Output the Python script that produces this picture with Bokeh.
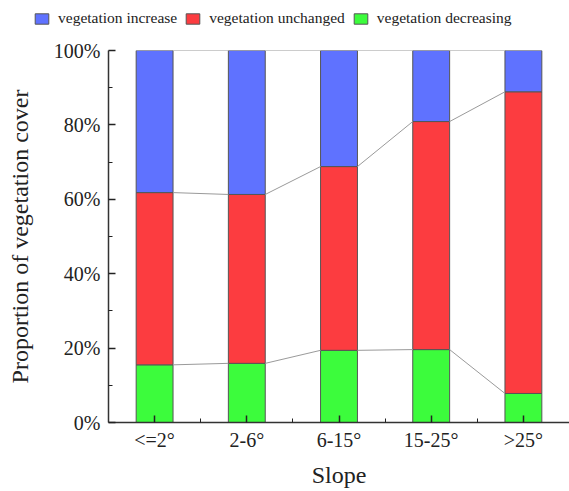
from bokeh.plotting import figure
from bokeh.layouts import column
from bokeh.models import (ColumnDataSource, Legend, LegendItem, FixedTicker,
                          PrintfTickFormatter, Range1d)
from bokeh.embed import file_html
from bokeh.resources import INLINE
import numpy as np

categories = ["<=2°", "2-6°", "6-15°", "15-25°", ">25°"]
decreasing = [15.5, 15.9, 19.4, 19.6, 7.8]
unchanged = [46.3, 45.4, 49.4, 61.3, 81.1]
increase = [38.2, 38.7, 31.2, 19.1, 11.1]

series_names = ["vegetation increase", "vegetation unchanged", "vegetation decreasing"]
colors = {"increase": "#5F72FF", "unchanged": "#FC3C40", "decreasing": "#3CFC3C"}

FONT = "Liberation Serif"
BAR_W = 0.4
W = 569

xs = list(range(len(categories)))
src = ColumnDataSource(dict(x=xs, decreasing=decreasing, unchanged=unchanged, increase=increase))

# ---- main chart ----
p = figure(width=W, height=461, output_backend="svg", toolbar_location=None,
           x_range=Range1d(-0.5, 4.5), y_range=Range1d(0, 100),
           min_border_left=108, min_border_right=0, min_border_top=20, min_border_bottom=69)
p.outline_line_color = None
p.xgrid.visible = False
p.ygrid.visible = False

rs = p.vbar_stack(["decreasing", "unchanged", "increase"], x="x", width=BAR_W, source=src,
                  color=[colors["decreasing"], colors["unchanged"], colors["increase"]],
                  line_color="#555555", line_width=1)

levels = [np.array(decreasing),
          np.array(decreasing) + np.array(unchanged),
          np.array(decreasing) + np.array(unchanged) + np.array(increase)]
x0, x1, y0, y1 = [], [], [], []
for lv in levels:
    for i in range(len(xs) - 1):
        x0.append(xs[i] + BAR_W / 2)
        x1.append(xs[i + 1] - BAR_W / 2)
        y0.append(float(lv[i]))
        y1.append(float(lv[i + 1]))
p.segment(x0=x0, y0=y0, x1=x1, y1=y1, line_color="#9a9a9a", line_width=1)

p.xaxis.ticker = FixedTicker(ticks=xs, minor_ticks=[i + 0.5 for i in xs[:-1]])
p.xaxis.major_label_overrides = {i: c for i, c in zip(xs, categories)}
p.yaxis.ticker = FixedTicker(ticks=[0, 20, 40, 60, 80, 100], minor_ticks=[10, 30, 50, 70, 90])
p.yaxis.formatter = PrintfTickFormatter(format="%d%%")

for ax in (p.xaxis, p.yaxis):
    ax.axis_line_color = "#333333"
    ax.axis_line_width = 1.5
    ax.major_tick_line_color = "#222222"
    ax.minor_tick_line_color = "#222222"
    ax.major_tick_line_width = 1.5
    ax.minor_tick_line_width = 1
    ax.major_tick_in = 7
    ax.major_tick_out = 0
    ax.minor_tick_in = 4
    ax.minor_tick_out = 0
    ax.major_label_text_font = FONT
    ax.major_label_text_font_size = "20px"
    ax.major_label_text_color = "#222222"
    ax.axis_label_text_font = FONT
    ax.axis_label_text_font_size = "24px"
    ax.axis_label_text_font_style = "normal"
    ax.axis_label_text_color = "#222222"

p.xaxis.axis_label = "Slope"
p.yaxis.axis_label = "Proportion of vegetation cover"
p.xaxis.major_label_standoff = 6
p.yaxis.major_label_standoff = 8
p.xaxis.axis_label_standoff = 8
p.yaxis.axis_label_standoff = 18

# ---- legend strip ----
lg = figure(width=W, height=30, output_backend="svg", toolbar_location=None,
            x_axis_type=None, y_axis_type=None,
            x_range=Range1d(0, 1), y_range=Range1d(0, 1),
            min_border_left=0, min_border_right=0, min_border_top=0, min_border_bottom=0)
lg.outline_line_color = None
lg.xgrid.visible = False
lg.ygrid.visible = False
for fig in (lg, p):
    try:
        fig.frame_align = False
    except Exception:
        pass

key_src = ColumnDataSource(dict(x=[5.0], top=[0.0]))
dummies = {k: lg.vbar(x="x", top="top", width=0.1, source=key_src,
                      fill_color=colors[k], line_color="#555555", line_width=1)
           for k in ("increase", "unchanged", "decreasing")}
legend = Legend(items=[LegendItem(label=series_names[0], renderers=[dummies["increase"]]),
                       LegendItem(label=series_names[1], renderers=[dummies["unchanged"]]),
                       LegendItem(label=series_names[2], renderers=[dummies["decreasing"]])],
                orientation="horizontal", location=(33, 3),
                glyph_width=17, glyph_height=13, label_standoff=8, spacing=7,
                padding=0, margin=0, border_line_color=None, background_fill_alpha=0,
                label_text_font=FONT, label_text_font_size="15.5px", label_text_color="#222222",
                label_height=13)
lg.add_layout(legend, "center")

layout = column(lg, p, spacing=0)
open("out.html", "w").write(file_html(layout, INLINE))
